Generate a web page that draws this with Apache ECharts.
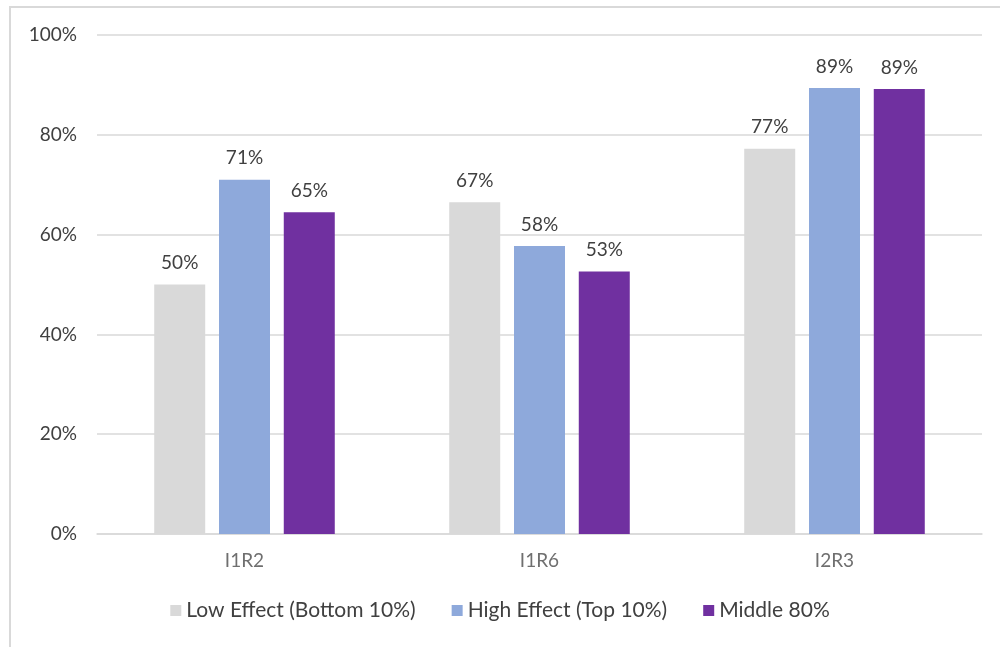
<!DOCTYPE html>
<html>
<head>
<meta charset="utf-8">
<script src="https://cdn.jsdelivr.net/npm/echarts@6/dist/echarts.min.js"></script>
<style>
  html, body { margin: 0; padding: 0; background: #fff; }
  #chart { width: 1000px; height: 647px; }
</style>
</head>
<body>
<div id="chart"></div>
<script>
// Categories and series values (percent)
const categories = ['I1R2', 'I1R6', 'I2R3'];
const lowEffect = [50, 66.5, 77.2];
const highEffect = [71, 57.7, 89.4];
const middle80 = [64.5, 52.6, 89.2];
const seriesNames = ['Low Effect (Bottom 10%)', 'High Effect (Top 10%)', 'Middle 80%'];
const colors = ['#D9D9D9', '#8EA9DB', '#7030A0'];

const font = 'Lato, "Open Sans", sans-serif';

function barSeries(name, data, color) {
  return {
    name: name,
    type: 'bar',
    data: data,
    barWidth: 51,
    barGap: '27%',
    itemStyle: { color: color },
    label: {
      show: true,
      position: 'top',
      distance: 12,
      color: '#404040',
      fontFamily: font,
      fontSize: 19,
      formatter: p => Math.round(p.value) + '%'
    }
  };
}

const chart = echarts.init(document.getElementById('chart'));
chart.setOption({
  animation: false,
  textStyle: { fontFamily: font },
  graphic: [{
    type: 'rect',
    shape: { x: 10, y: 7, width: 1000, height: 660 },
    style: { fill: 'none', stroke: '#D9D9D9', lineWidth: 2 },
    silent: true
  }],
  grid: { left: 97, right: 18, top: 35, bottom: 113 },
  legend: {
    bottom: 21,
    left: 'center',
    itemWidth: 11,
    itemHeight: 11,
    itemGap: 36,
    icon: 'rect',
    textStyle: { color: '#404040', fontSize: 21, fontFamily: font },
    data: seriesNames
  },
  xAxis: {
    type: 'category',
    data: categories,
    axisLine: { lineStyle: { color: '#D9D9D9', width: 1.5 } },
    axisTick: { show: false },
    axisLabel: { color: '#6F6F6F', fontSize: 19, margin: 17, fontFamily: font }
  },
  yAxis: {
    type: 'value',
    min: 0,
    max: 100,
    interval: 20,
    axisLine: { show: false },
    axisTick: { show: false },
    splitLine: { lineStyle: { color: '#D9D9D9', width: 1.5 } },
    axisLabel: { color: '#404040', fontSize: 19, margin: 20, fontFamily: font, formatter: v => v + '%' }
  },
  series: [
    barSeries(seriesNames[0], lowEffect, colors[0]),
    barSeries(seriesNames[1], highEffect, colors[1]),
    barSeries(seriesNames[2], middle80, colors[2])
  ]
});
</script>
</body>
</html>
